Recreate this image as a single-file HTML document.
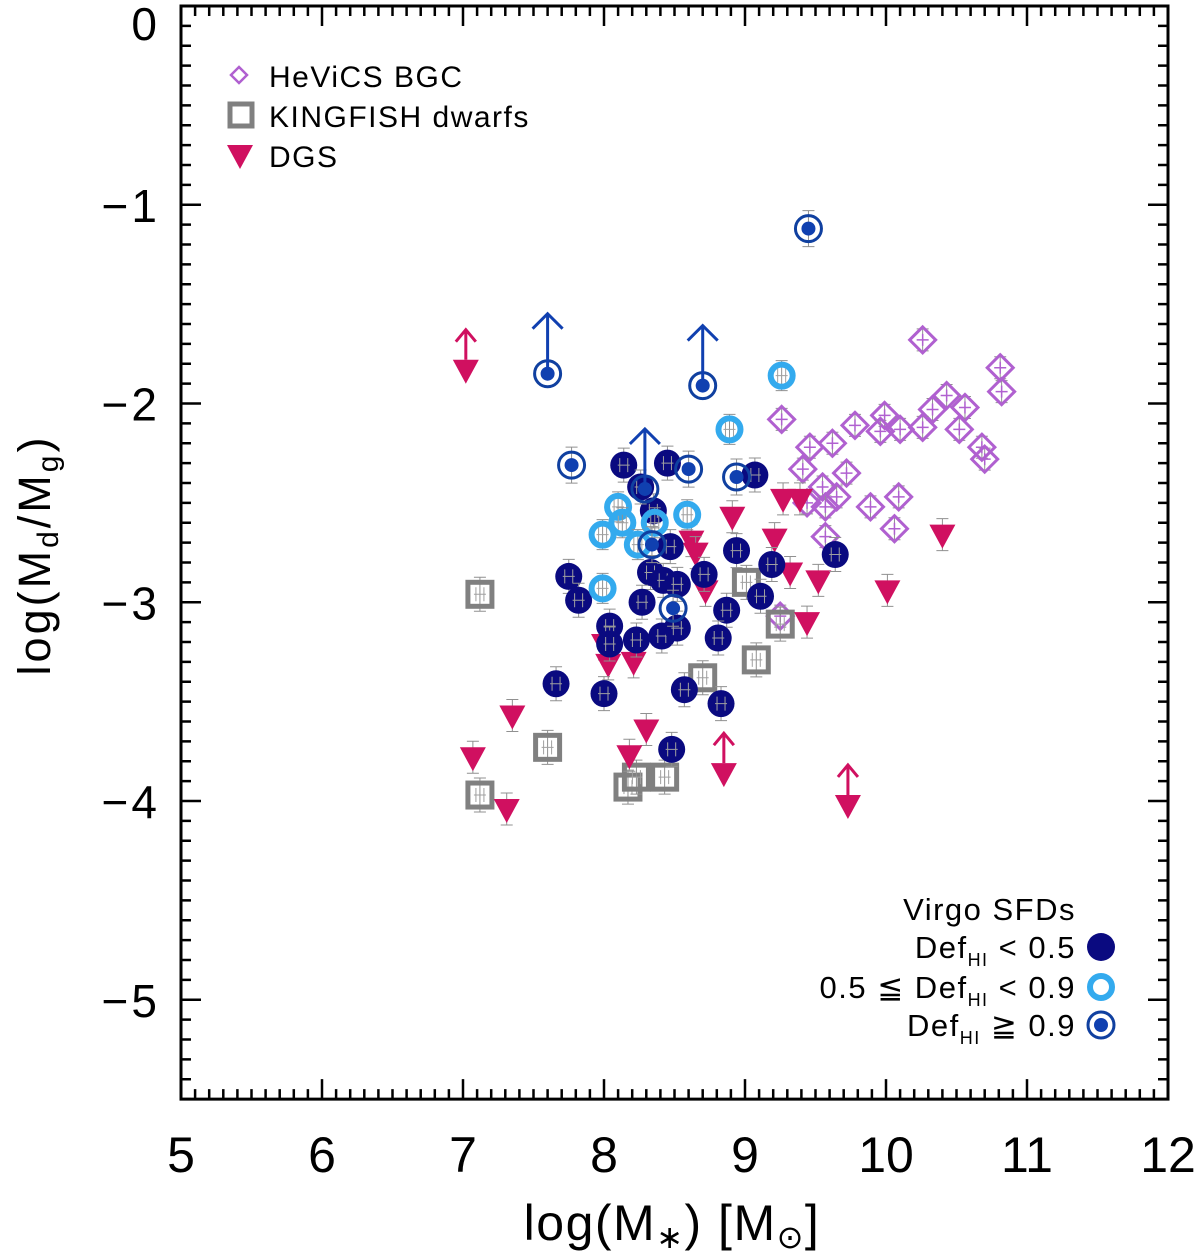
<!DOCTYPE html>
<html><head><meta charset="utf-8"><style>
html,body{margin:0;padding:0;background:#fff;}
svg text{font-family:"Liberation Sans",sans-serif;}
</style></head><body>
<svg id="chart" width="1200" height="1252" viewBox="0 0 1200 1252" xmlns="http://www.w3.org/2000/svg">
<g id="plot"></g>
<g id="axes"></g>
<g font-size="30" letter-spacing="1.5">
 <path d="M239 67 L247 75 L239 83 L231 75 Z" fill="none" stroke="#b060d0" stroke-width="2.5"/>
 <text x="269" y="87">HeViCS BGC</text>
 <rect x="230" y="104" width="22" height="22" fill="none" stroke="#808080" stroke-width="5"/>
 <text x="269" y="127">KINGFISH dwarfs</text>
 <path d="M227 145 L253 145 L240 169 Z" fill="#d01060"/>
 <text x="269" y="167">DGS</text>
</g>
<g font-size="31" letter-spacing="1.5">
 <text x="1076" y="920" text-anchor="end">Virgo SFDs</text>
 <text x="1076" y="958" text-anchor="end">Def<tspan font-size="18" dy="8">HI</tspan><tspan dy="-8"> &lt; 0.5</tspan></text>
 <circle cx="1101" cy="947" r="14" fill="#0a0a80"/>
 <text x="1076" y="998" text-anchor="end">0.5 ≦ Def<tspan font-size="18" dy="8">HI</tspan><tspan dy="-8"> &lt; 0.9</tspan></text>
 <circle cx="1101" cy="987" r="11" fill="none" stroke="#33aaee" stroke-width="6"/>
 <text x="1076" y="1036" text-anchor="end">Def<tspan font-size="18" dy="8">HI</tspan><tspan dy="-8"> ≧ 0.9</tspan></text>
 <circle cx="1101" cy="1025" r="13" fill="none" stroke="#1040a0" stroke-width="3"/>
 <circle cx="1101" cy="1025" r="7" fill="#1040b0"/>
</g>
<text x="672" y="1240" text-anchor="middle" font-size="50" letter-spacing="1.5">log(M<tspan font-size="32" dy="8">∗</tspan><tspan dy="-8">)  [M</tspan><tspan font-size="32" dy="8">⊙</tspan><tspan dy="-8">]</tspan></text>
<text transform="translate(50,555) rotate(-90)" text-anchor="middle" font-size="45" letter-spacing="3">log(M<tspan font-size="30" dy="8">d</tspan><tspan dy="-8">/M</tspan><tspan font-size="30" dy="8">g</tspan><tspan dy="-8">)</tspan></text>
</svg>
<script>
const xTicks=[5,6,7,8,9,10,11,12];
const yTicks=[0,-1,-2,-3,-4,-5];
const xTickLabels=["5","6","7","8","9","10","11","12"];
const yTickLabels=["0","−1","−2","−3","−4","−5"];
// HeViCS BGC
const hevX=[10.26,10.81,10.82,10.43,10.56,10.33,9.99,10.10,10.26,9.96,9.78,9.26,10.52,10.68,10.70,9.46,9.62,9.41,9.72,9.55,9.65,9.57,9.89,10.09,10.06,9.57,9.44,9.25];
const hevY=[-1.68,-1.82,-1.94,-1.96,-2.02,-2.03,-2.06,-2.13,-2.12,-2.14,-2.11,-2.08,-2.13,-2.22,-2.28,-2.22,-2.20,-2.33,-2.35,-2.42,-2.47,-2.52,-2.52,-2.47,-2.63,-2.67,-2.50,-3.07];
// KINGFISH dwarfs
const kfX=[7.12,7.12,7.60,8.17,8.23,8.43,8.70,9.01,9.08,9.25];
const kfY=[-2.96,-3.97,-3.73,-3.93,-3.88,-3.88,-3.38,-2.90,-3.29,-3.11];
// DGS
const dgsX=[7.07,7.31,7.35,8.00,8.21,8.30,8.18,8.62,8.65,8.72,8.91,9.21,9.27,9.39,9.32,9.52,9.44,10.01,10.40,8.03];
const dgsY=[-3.78,-4.04,-3.57,-3.21,-3.30,-3.64,-3.77,-2.69,-2.75,-2.94,-2.57,-2.68,-2.48,-2.48,-2.85,-2.89,-3.10,-2.94,-2.66,-3.31];
const dgsLimX=[7.02,8.85,9.73];
const dgsLimY=[-1.83,-3.86,-4.02];
// Virgo SFDs DefHI<0.5
const lowX=[8.14,8.45,9.07,8.94,9.19,9.64,7.75,7.82,8.33,8.42,8.52,8.71,8.27,8.47,8.35,9.11,8.87,8.04,8.04,8.23,8.41,8.52,8.81,7.66,8.00,8.57,8.83,8.48,8.26];
const lowY=[-2.31,-2.30,-2.36,-2.74,-2.81,-2.76,-2.87,-2.99,-2.85,-2.89,-2.91,-2.86,-3.00,-2.72,-2.54,-2.97,-3.04,-3.12,-3.21,-3.19,-3.17,-3.13,-3.18,-3.41,-3.46,-3.44,-3.51,-3.74,-2.42];
// 0.5<=DefHI<0.9
const midX=[7.99,8.10,8.13,8.36,8.59,8.24,7.99,8.89,9.26];
const midY=[-2.66,-2.52,-2.60,-2.60,-2.56,-2.71,-2.93,-2.13,-1.86];
// DefHI>=0.9
const highX=[7.77,8.60,8.94,8.34,8.49,9.45];
const highY=[-2.31,-2.33,-2.37,-2.71,-3.03,-1.12];
const highLimX=[7.60,8.70,8.29];
const highLimY=[-1.85,-1.91,-2.43];

const NS="http://www.w3.org/2000/svg";
const X0=181,PX=141,Y0=6,PY=198.75;
function sx(v){return X0+(v-5)*PX;}
function sy(v){return Y0-v*PY;}
const plot=document.getElementById('plot'),axes=document.getElementById('axes');
function mk(tag,attrs,parent){const e=document.createElementNS(NS,tag);for(const k in attrs)e.setAttribute(k,attrs[k]);parent.appendChild(e);return e;}
function errbar(x,y,h,g){
  mk('path',{d:`M${x} ${y-h}V${y+h}M${x-6} ${y-h}H${x+6}M${x-6} ${y+h}H${x+6}`,stroke:'#909090','stroke-width':1,fill:'none'},g);
}
function cross(x,y,g){mk('path',{d:`M${x-6} ${y}H${x+6}M${x-4} ${y-7}V${y+7}M${x+4} ${y-7}V${y+7}`,stroke:'#a0a0a0','stroke-width':1,fill:'none'},g);}
hevX.forEach((v,i)=>{const x=sx(v),y=sy(hevY[i]);
  const g=mk('g',{},plot);
  
  
  errbar(x,y,11,g);
  mk('path',{d:`M${x} ${y-13}L${x+13} ${y}L${x} ${y+13}L${x-13} ${y}Z`,fill:'none',stroke:'#b060d0','stroke-width':3},g);
  mk('path',{d:`M${x-6} ${y}H${x+6}M${x} ${y-6}V${y+6}`,stroke:'#b060d0','stroke-width':1.5},g);
});
kfX.forEach((v,i)=>{const x=sx(v),y=sy(kfY[i]);
  const g=mk('g',{},plot);
  
  
  errbar(x,y,17,g);
  mk('rect',{x:x-12,y:y-12,width:24,height:24,fill:'none',stroke:'#808080','stroke-width':5},g);
  cross(x,y,g);
});
function tri(x,y,g){mk('path',{d:`M${x-13} ${y-10}L${x+13} ${y-10}L${x} ${y+14}Z`,fill:'#d01060'},g);}
dgsX.forEach((v,i)=>{const x=sx(v),y=sy(dgsY[i]);
  const g=mk('g',{},plot);
  
  
  errbar(x,y,16,g);
  tri(x,y,g);
});
dgsLimX.forEach((v,i)=>{const x=sx(v),y=sy(dgsLimY[i]);
  const g=mk('g',{},plot);
  
  
  tri(x,y,g);
  mk('path',{d:`M${x} ${y-10}V${y-40}M${x-10} ${y-28}L${x} ${y-40}L${x+10} ${y-28}`,stroke:'#d01060','stroke-width':3,fill:'none'},g);
});
lowX.forEach((v,i)=>{const x=sx(v),y=sy(lowY[i]);
  const g=mk('g',{},plot);
  
  
  errbar(x,y,17,g);
  mk('circle',{cx:x,cy:y,r:13.5,fill:'#0a0a80'},g);
  cross(x,y,g);
});
midX.forEach((v,i)=>{const x=sx(v),y=sy(midY[i]);
  const g=mk('g',{},plot);
  
  
  errbar(x,y,15,g);
  mk('circle',{cx:x,cy:y,r:11,fill:'none',stroke:'#33aaee','stroke-width':6},g);
  cross(x,y,g);
});
function high(x,y,g){
  mk('circle',{cx:x,cy:y,r:13,fill:'none',stroke:'#1040a0','stroke-width':3},g);
  mk('circle',{cx:x,cy:y,r:7,fill:'#1040b0'},g);
}
highX.forEach((v,i)=>{const x=sx(v),y=sy(highY[i]);
  const g=mk('g',{},plot);
  
  
  errbar(x,y,18,g);
  high(x,y,g);
});
highLimX.forEach((v,i)=>{const x=sx(v),y=sy(highLimY[i]);
  const g=mk('g',{},plot);
  
  
  high(x,y,g);
  mk('path',{d:`M${x} ${y}V${y-60}M${x-15} ${y-45}L${x} ${y-60}L${x+15} ${y-45}`,stroke:'#1040b0','stroke-width':3,fill:'none'},g);
});
const L=sx(5),R=sx(12),T=sy(0),B=sy(-5.5);
const frame=mk('rect',{x:L,y:T,width:R-L,height:B-T,fill:'none',stroke:'#000','stroke-width':3},axes);


let d='';
for(let k=50;k<=120;k++){const x=sx(k/10),len=(k%10===0)?20:10;d+=`M${x} ${B}V${B-len}M${x} ${T}V${T+len}`;}
for(let k=0;k<=55;k++){const y=sy(-k/10),len=(k%10===0)?20:10;d+=`M${L} ${y}H${L+len}M${R} ${y}H${R-len}`;}
const tk=mk('path',{d:d,stroke:'#000','stroke-width':2.5,fill:'none'},axes);


xTicks.forEach((v,i)=>{const t=mk('text',{x:sx(v),y:1172,'text-anchor':'middle','font-size':50},axes);t.textContent=xTickLabels[i];
  
  });
yTicks.forEach((v,i)=>{const base=(v===0)?40:sy(v)+17;
  const t=mk('text',{x:160,y:base,'text-anchor':'end','font-size':46,'letter-spacing':3},axes);t.textContent=yTickLabels[i];
  
  });
</script>
</body></html>
